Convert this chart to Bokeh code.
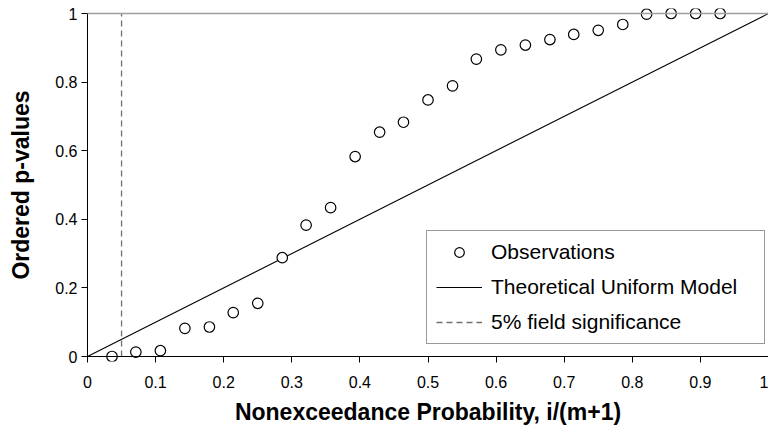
from bokeh.plotting import figure
from bokeh.models import Span, Legend, LegendItem, FixedTicker, Range1d
from bokeh.embed import file_html
from bokeh.resources import INLINE

# ---- data ----
prob = [0.036, 0.071, 0.107, 0.143, 0.179, 0.214, 0.250, 0.286, 0.321, 0.357,
        0.393, 0.429, 0.464, 0.500, 0.536, 0.571, 0.607, 0.643, 0.679, 0.714,
        0.750, 0.786, 0.821, 0.857, 0.893, 0.929]
pvals = [0.000, 0.013, 0.017, 0.082, 0.086, 0.128, 0.155, 0.288, 0.383, 0.434,
         0.583, 0.654, 0.683, 0.748, 0.789, 0.867, 0.894, 0.908, 0.924, 0.939,
         0.951, 0.968, 0.998, 1.000, 1.000, 1.000]
model_x = [0.0, 1.0]
model_y = [0.0, 1.0]
sig_x = [0.05, 0.05]
sig_y = [0.0, 1.0]
x_ticks = [0, 0.1, 0.2, 0.3, 0.4, 0.5, 0.6, 0.7, 0.8, 0.9, 1]
x_labels = ["0", "0.1", "0.2", "0.3", "0.4", "0.5", "0.6", "0.7", "0.8", "0.9", "1"]
y_ticks = [0, 0.2, 0.4, 0.6, 0.8, 1]
y_labels = ["0", "0.2", "0.4", "0.6", "0.8", "1"]
series_names = ["Observations", "Theoretical Uniform Model", "5% field significance"]

FONT = "Liberation Sans"
pad = 5.0 / 343.0

p = figure(width=768, height=429, output_backend="svg", toolbar_location=None,
           x_range=Range1d(0, 1), y_range=Range1d(-pad, 1 + pad),
           min_border_left=87, min_border_right=0, min_border_top=8,
           min_border_bottom=68, title=None)
p.outline_line_color = None
p.grid.visible = False
p.background_fill_color = "white"
p.border_fill_color = "white"

# top gray boundary at y = 1 and x-axis baseline at y = 0
top_line = Span(location=y_ticks[-1], dimension="width", line_color="#a0a0a0", line_width=1.5)
p.add_layout(top_line)
base_line = Span(location=y_ticks[0], dimension="width", line_color="black", line_width=1)
p.add_layout(base_line)

r_sig = p.line(sig_x, sig_y, line_color="#707070", line_width=1.3, line_dash="6 4")
r_model = p.line(model_x, model_y, line_color="black", line_width=1.1)
r_obs = p.scatter(prob, pvals, marker="circle", size=10.5, fill_color="white",
                  line_color="black", line_width=1.2)

for ax in (p.xaxis[0], p.yaxis[0]):
    ax.axis_line_color = "black"
    ax.axis_line_width = 1
    ax.major_tick_line_color = "black"
    ax.minor_tick_line_color = None
    ax.major_label_text_font = FONT
    ax.major_label_text_font_size = "16px"
    ax.major_label_text_color = "black"
    ax.axis_label_text_font = FONT
    ax.axis_label_text_font_size = "23px"
    ax.axis_label_text_font_style = "bold"
    ax.axis_label_text_color = "black"

xa = p.xaxis[0]
xa.ticker = FixedTicker(ticks=x_ticks)
xa.major_label_overrides = dict(zip(x_ticks, x_labels))
xa.axis_label = "Nonexceedance Probability, i/(m+1)"
xa.axis_line_color = None
xa.major_tick_in = 5
xa.major_tick_out = 1
xa.major_label_standoff = 13
xa.axis_label_standoff = 8

ya = p.yaxis[0]
ya.ticker = FixedTicker(ticks=y_ticks)
ya.major_label_overrides = dict(zip(y_ticks, y_labels))
ya.axis_label = "Ordered p-values"
ya.bounds = (0, 1)
ya.major_tick_in = 0
ya.major_tick_out = 6
ya.major_label_standoff = 4
ya.axis_label_standoff = 18

legend = Legend(items=[LegendItem(label=series_names[0], renderers=[r_obs]),
                       LegendItem(label=series_names[1], renderers=[r_model]),
                       LegendItem(label=series_names[2], renderers=[r_sig])],
                location=(339, 17))
legend.margin = 0
legend.padding = 9
legend.spacing = 11
legend.glyph_width = 46
legend.glyph_height = 24
legend.label_height = 24
legend.label_width = 264
legend.label_standoff = 9
legend.label_text_font = FONT
legend.label_text_font_size = "21px"
legend.label_text_color = "black"
legend.border_line_color = "#333333"
legend.border_line_width = 1
legend.background_fill_color = "white"
legend.background_fill_alpha = 1
p.add_layout(legend)

open("out.html", "w").write(file_html(p, INLINE))
